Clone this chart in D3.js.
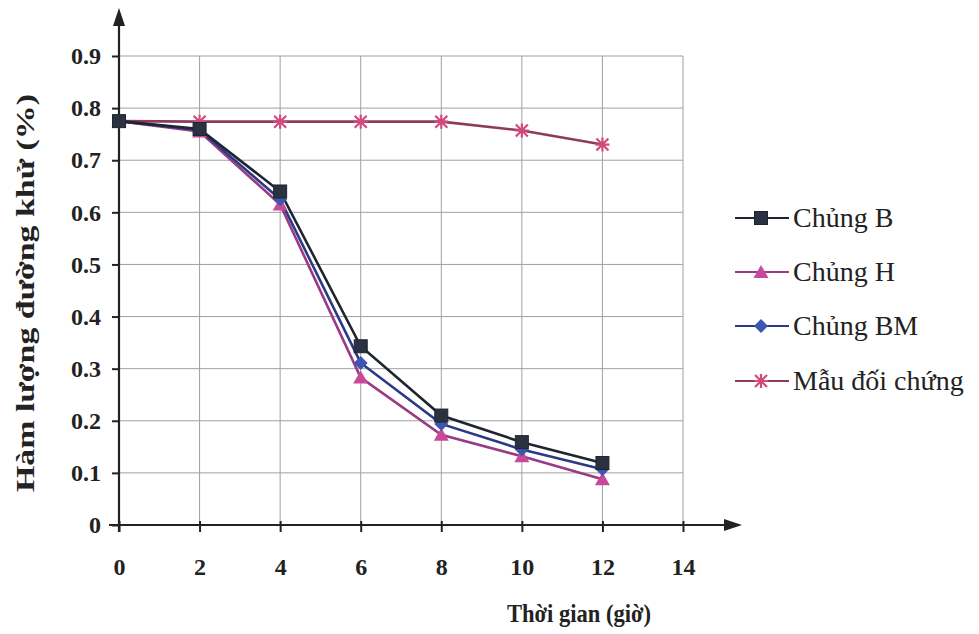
<!DOCTYPE html>
<html><head><meta charset="utf-8">
<script src="https://cdn.jsdelivr.net/npm/d3@7"></script>
<style>body{margin:0;background:#fff}svg{display:block}svg text{font-family:"Liberation Serif","DejaVu Serif","Times New Roman",serif}</style>
</head><body>
<svg id="c" width="979" height="634"></svg>
<script>
const hours = [0, 2, 4, 6, 8, 10, 12];
const chungB  = [0.775, 0.76, 0.64, 0.343, 0.21, 0.159, 0.119];
const chungH  = [0.775, 0.755, 0.615, 0.283, 0.173, 0.132, 0.088];
const chungBM = [0.775, 0.758, 0.625, 0.311, 0.194, 0.145, 0.107];
const mauDC   = [0.775, 0.774, 0.774, 0.774, 0.774, 0.757, 0.73];
const seriesNames = ["Chủng B", "Chủng H", "Chủng BM", "Mẫu đối chứng"];
const xTicks = [0, 2, 4, 6, 8, 10, 12, 14];
const yTicks = [0, 0.1, 0.2, 0.3, 0.4, 0.5, 0.6, 0.7, 0.8, 0.9];
const xTitle = "Thời gian (giờ)";
const yTitle = "Hàm lượng đường khử (%)";

const series = [
  {name: seriesNames[0], values: chungB,  line: "#1f2530", fill: "#2a3140", marker: "square"},
  {name: seriesNames[1], values: chungH,  line: "#9a3a86", fill: "#c8489a", marker: "triangle"},
  {name: seriesNames[2], values: chungBM, line: "#2c3a86", fill: "#3d56b0", marker: "diamond"},
  {name: seriesNames[3], values: mauDC,   line: "#8e3a5c", fill: "#d04a7c", marker: "star"}
];

const svg = d3.select("#c");
const x = d3.scaleLinear().domain([0, 14]).range([119, 683]);
const y = d3.scaleLinear().domain([0, 0.9]).range([525, 56]);
const font = "'Liberation Serif', 'DejaVu Serif', serif";

// grid
const g = svg.append("g");
g.selectAll("line.h").data(yTicks.slice(1)).enter().append("line")
  .attr("x1", x(0)).attr("x2", x(14)).attr("y1", d => y(d)).attr("y2", d => y(d))
  .attr("stroke", "#a0a0a0").attr("stroke-width", 1);
g.selectAll("line.v").data(xTicks.slice(1)).enter().append("line")
  .attr("x1", d => x(d)).attr("x2", d => x(d)).attr("y1", y(0)).attr("y2", y(0.9))
  .attr("stroke", "#a0a0a0").attr("stroke-width", 1);

// axes
const xAxis = d3.axisBottom(x).tickValues(xTicks).tickSize(7).tickFormat(d3.format("d"));
const yAxis = d3.axisLeft(y).tickValues(yTicks).tickSize(7).tickFormat(d => d === 0 ? "0" : d3.format(".1f")(d));
const gx = svg.append("g").attr("transform", `translate(0,${y(0)})`).call(xAxis);
gx.select(".domain").remove();
gx.attr("font-family", null).attr("font-size", null);
gx.selectAll(".tick line").attr("stroke", "#222").attr("stroke-width", 2).attr("y1", -4);
gx.selectAll(".tick text").style("font-family", font).attr("font-weight", "bold").attr("font-size", 24).attr("fill", "#222").attr("y", 33).attr("dy", "0.71em");
const gy = svg.append("g").attr("transform", `translate(${x(0)},0)`).call(yAxis);
gy.select(".domain").remove();
gy.attr("font-family", null).attr("font-size", null);
gy.selectAll(".tick line").attr("stroke", "#222").attr("stroke-width", 2);
gy.selectAll(".tick text").style("font-family", font).attr("font-weight", "bold").attr("font-size", 24).attr("fill", "#222").attr("x", -18);

// axis lines with arrows
svg.append("line").attr("x1", x(0)).attr("x2", x(0)).attr("y1", y(0) + 7).attr("y2", 20)
  .attr("stroke", "#222").attr("stroke-width", 2.2);
svg.append("path").attr("d", `M${x(0) - 6},${26} L${x(0)},${8} L${x(0) + 6},${26} Z`).attr("fill", "#222");
svg.append("line").attr("x1", x(0) - 10).attr("x2", 730).attr("y1", y(0)).attr("y2", y(0))
  .attr("stroke", "#222").attr("stroke-width", 2.2);
svg.append("path").attr("d", `M${724},${y(0) - 6} L${742},${y(0)} L${724},${y(0) + 6} Z`).attr("fill", "#222");

// axis titles
svg.append("text").attr("x", 579).attr("y", 622).attr("text-anchor", "middle")
  .attr("textLength", 144).attr("lengthAdjust", "spacingAndGlyphs")
  .style("font-family", font).attr("font-weight", "bold").attr("font-size", 25).attr("fill", "#222").text(xTitle);
svg.append("text").attr("transform", `translate(34,293) rotate(-90)`).attr("text-anchor", "middle")
  .attr("textLength", 398).attr("lengthAdjust", "spacingAndGlyphs")
  .style("font-family", font).attr("font-weight", "bold").attr("font-size", 25).attr("fill", "#222").text(yTitle);

function drawMarker(sel, type, cx, cy, fill, stroke) {
  if (type === "square") {
    sel.append("rect").attr("x", cx - 6.5).attr("y", cy - 6.5).attr("width", 13).attr("height", 13)
      .attr("fill", fill).attr("stroke", stroke).attr("stroke-width", 1);
  } else if (type === "triangle") {
    sel.append("path").attr("d", `M${cx},${cy - 7} L${cx + 7.5},${cy + 6} L${cx - 7.5},${cy + 6} Z`).attr("fill", fill);
  } else if (type === "diamond") {
    sel.append("path").attr("d", `M${cx},${cy - 7} L${cx + 7},${cy} L${cx},${cy + 7} L${cx - 7},${cy} Z`).attr("fill", fill);
  } else {
    const s = 6;
    sel.append("path").attr("d",
      `M${cx - s},${cy - s} L${cx + s},${cy + s} M${cx - s},${cy + s} L${cx + s},${cy - s} M${cx},${cy - s - 1} L${cx},${cy + s + 1} M${cx - s - 1},${cy} L${cx + s + 1},${cy}`)
      .attr("stroke", fill).attr("stroke-width", 2.2).attr("fill", "none");
  }
}

const line = d3.line().x((d, i) => x(hours[i])).y(d => y(d));
const order = [3, 1, 2, 0];
order.forEach(k => {
  const s = series[k];
  svg.append("path").datum(s.values).attr("d", line).attr("fill", "none")
    .attr("stroke", s.line).attr("stroke-width", 2.6);
});
order.forEach(k => {
  const s = series[k];
  const mg = svg.append("g");
  s.values.forEach((v, i) => drawMarker(mg, s.marker, x(hours[i]), y(v), s.fill, s.line));
});

// legend
const legY = [218, 272, 326, 381];
series.forEach((s, i) => {
  const lg = svg.append("g");
  lg.append("line").attr("x1", 735).attr("x2", 789).attr("y1", legY[i]).attr("y2", legY[i])
    .attr("stroke", s.line).attr("stroke-width", 2.2);
  drawMarker(lg, s.marker, 761, legY[i], s.fill, s.line);
  lg.append("text").attr("x", 793).attr("y", legY[i]).attr("dy", "0.33em")
    .style("font-family", font).attr("font-size", 28).attr("fill", "#222").text(s.name);
});
</script>
</body></html>
